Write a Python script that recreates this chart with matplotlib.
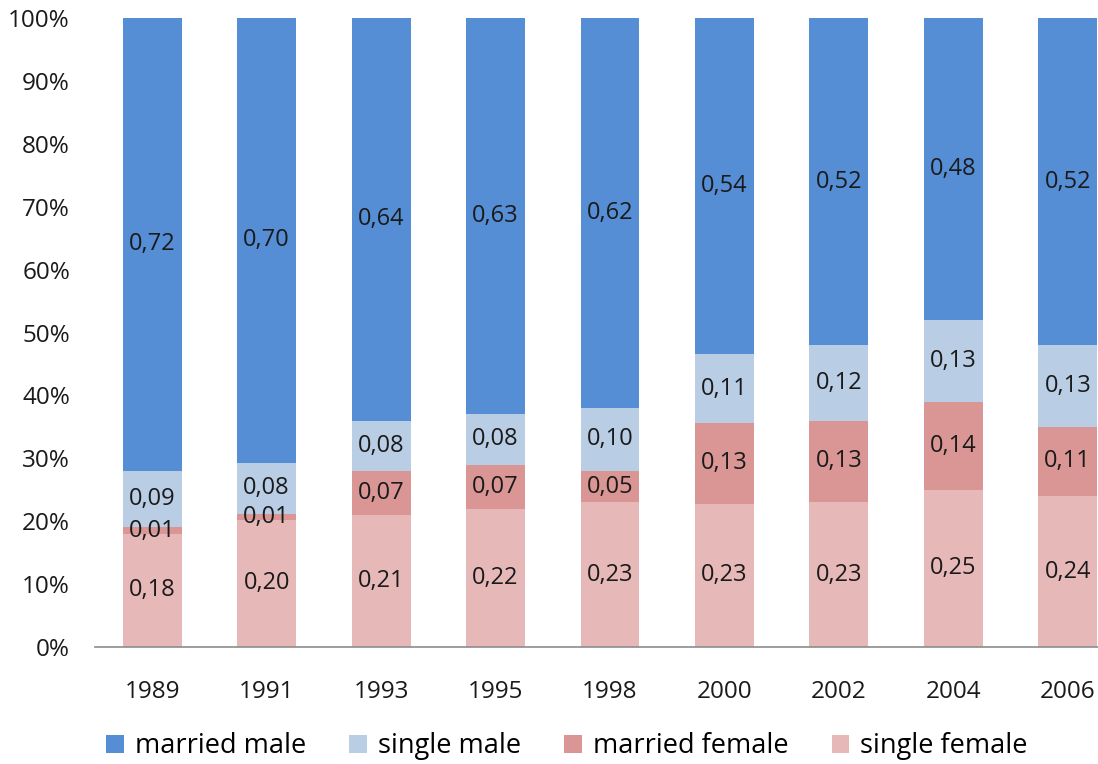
import matplotlib.pyplot as plt
import numpy as np

years = ["1989", "1991", "1993", "1995", "1998", "2000", "2002", "2004", "2006"]
single_female = [0.18, 0.20, 0.21, 0.22, 0.23, 0.23, 0.23, 0.25, 0.24]
married_female = [0.01, 0.01, 0.07, 0.07, 0.05, 0.13, 0.13, 0.14, 0.11]
single_male = [0.09, 0.08, 0.08, 0.08, 0.10, 0.11, 0.12, 0.13, 0.13]
married_male = [0.72, 0.70, 0.64, 0.63, 0.62, 0.54, 0.52, 0.48, 0.52]

series = [
    ("single female", single_female, "#E6B9B8"),
    ("married female", married_female, "#D99694"),
    ("single male", single_male, "#B9CDE5"),
    ("married male", married_male, "#558ED5"),
]

plt.rcParams["font.family"] = ["Open Sans", "DejaVu Sans"]

fig = plt.figure(figsize=(10.98, 7.64), dpi=100)
ax = fig.add_axes([95 / 1098, 117 / 764, 1030 / 1098, 629 / 764])

x = np.arange(len(years))
totals = np.sum([np.array(s[1]) for s in series], axis=0)
bottom = np.zeros(len(years))
bars = {}
for name, vals, color in series:
    vals = np.array(vals)
    share = vals / totals
    bars[name] = ax.bar(x, share, 0.515, bottom=bottom, color=color, label=name)
    for xi, b, h, v in zip(x, bottom, share, vals):
        ax.text(xi, b + h / 2, f"{v:.2f}".replace(".", ","), ha="center", va="center",
                fontsize=17, color="#1a1a1a")
    bottom = bottom + share

ax.set_xlim(-0.5, len(years) - 0.5)
ax.set_ylim(0, 1)
ax.set_yticks(np.arange(0, 1.01, 0.1))
ax.set_yticklabels([f"{int(round(t * 100))}%" for t in np.arange(0, 1.01, 0.1)])
ax.set_xticks(x)
ax.set_xticklabels(years)
ax.tick_params(axis="y", length=0, pad=18, labelsize=17.5, labelcolor="#1a1a1a")
ax.tick_params(axis="x", length=0, pad=24, labelsize=17.5, labelcolor="#1a1a1a")
for side in ["top", "right", "left"]:
    ax.spines[side].set_visible(False)
ax.spines["bottom"].set_color("#8c8c8c")
ax.spines["bottom"].set_linewidth(1.2)

handles = [bars["married male"], bars["single male"], bars["married female"], bars["single female"]]
labels = ["married male", "single male", "married female", "single female"]
fig.legend(handles, labels, loc="center", bbox_to_anchor=(567 / 1098, 0.023), ncol=4,
           frameon=False, fontsize=19.5, handlelength=0.65, handleheight=0.65,
           handletextpad=0.4, columnspacing=1.6)

fig.savefig("out.png", dpi=100)
